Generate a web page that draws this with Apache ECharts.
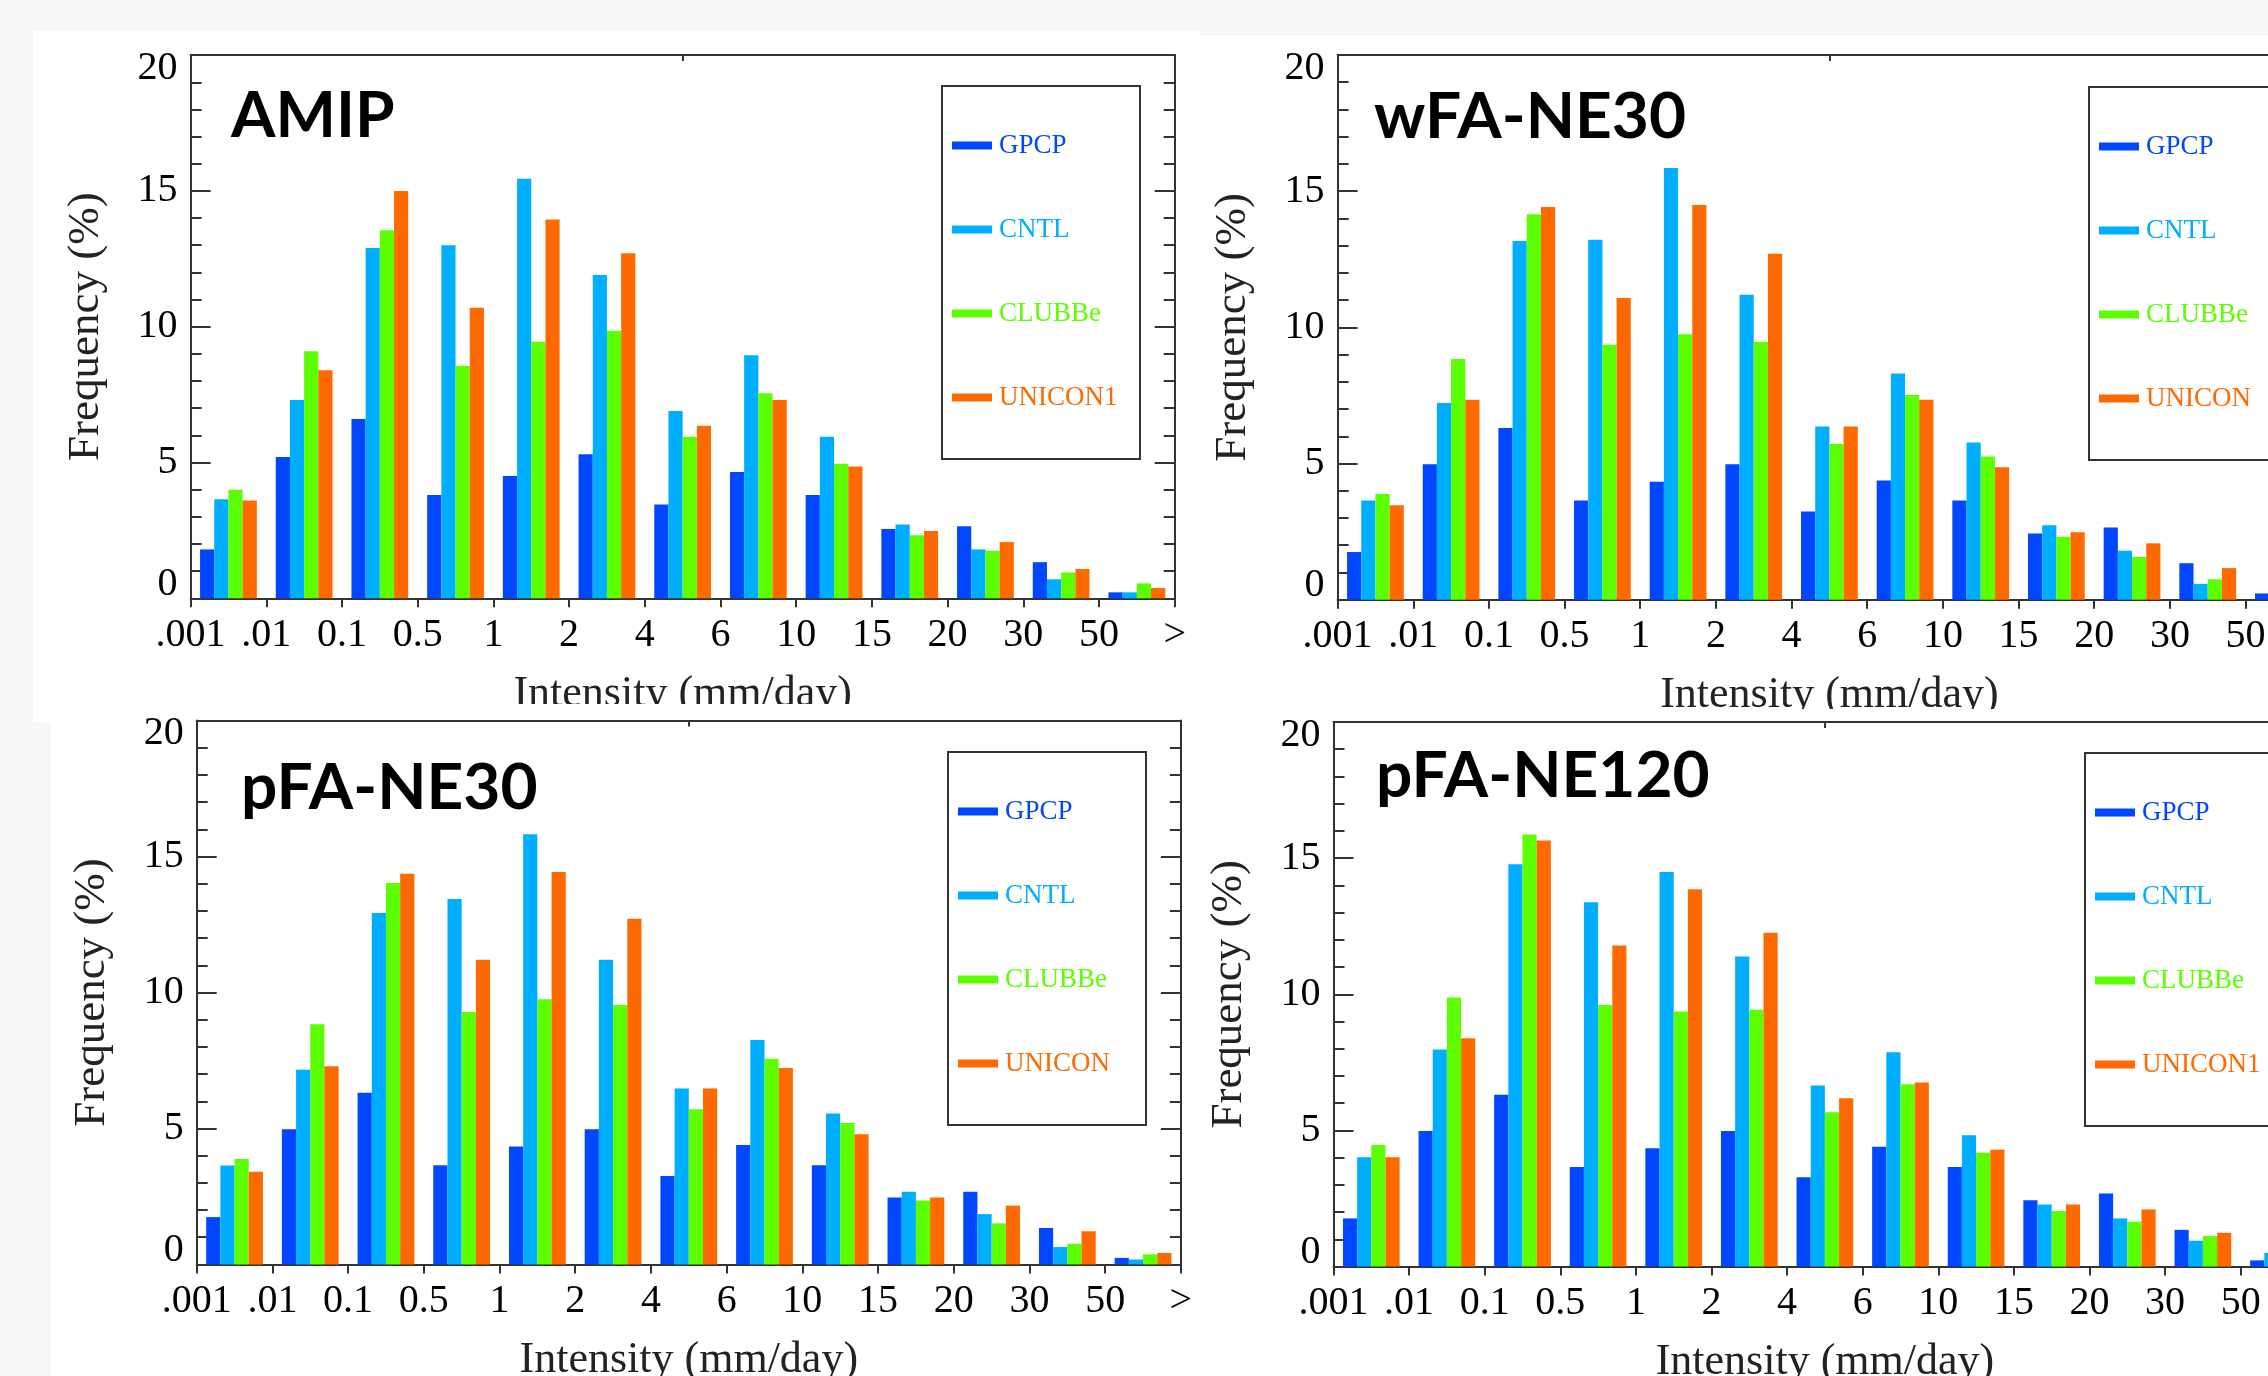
<!DOCTYPE html>
<html>
<head>
<meta charset="utf-8">
<script src="https://cdn.jsdelivr.net/npm/echarts@6/dist/echarts.min.js"></script>
<style>
html, body { margin: 0; padding: 0; width: 2268px; height: 1376px; background: #f7f7f9; overflow: hidden; position: relative; }
.paper { position: absolute; background: #fff; }
.chart { position: absolute; }
</style>
</head>
<body>
<div class="paper" style="left:33px;top:31px;width:1167px;height:691px"></div>
<div class="paper" style="left:1200px;top:36px;width:1068px;height:1340px"></div>
<div class="paper" style="left:51px;top:704px;width:1149px;height:672px"></div>
<div id="amip" class="chart" style="left:33px;top:31px;width:1167px;height:673px"></div>
<div id="wfa30" class="chart" style="left:1200px;top:36px;width:1068px;height:673px"></div>
<div id="pfa30" class="chart" style="left:51px;top:705px;width:1149px;height:671px"></div>
<div id="pfa120" class="chart" style="left:1200px;top:710px;width:1068px;height:666px"></div>
<script>
// ---------- data ----------
var bins = ['.001-.01', '.01-0.1', '0.1-0.5', '0.5-1', '1-2', '2-4', '4-6', '6-10', '10-15', '15-20', '20-30', '30-50', '>50'];
var tickLabels = ['.001', '.01', '0.1', '0.5', '1', '2', '4', '6', '10', '15', '20', '30', '50', '>'];
var colors = ['#0047ff', '#00aeff', '#5bff00', '#ff6a00'];

// AMIP
var amipGPCP   = [1.8, 5.2, 6.6, 3.8, 4.5, 5.3, 3.45, 4.65, 3.8, 2.55, 2.65, 1.33, 0.22];
var amipCNTL   = [3.65, 7.3, 12.9, 13.0, 15.45, 11.9, 6.9, 8.95, 5.95, 2.72, 1.8, 0.7, 0.22];
var amipCLUBBe = [4.0, 9.1, 13.55, 8.55, 9.45, 9.85, 5.95, 7.55, 4.95, 2.32, 1.75, 0.95, 0.55];
var amipUNICON = [3.6, 8.4, 15.0, 10.7, 13.95, 12.7, 6.35, 7.3, 4.85, 2.48, 2.07, 1.08, 0.38];

// wFA-NE30 (last bin partly off the page)
var wfa30GPCP   = [1.75, 4.97, 6.3, 3.64, 4.33, 4.97, 3.24, 4.38, 3.64, 2.43, 2.65, 1.34, 0.23];
var wfa30CNTL   = [3.64, 7.22, 13.17, 13.22, 15.85, 11.2, 6.36, 8.31, 5.77, 2.73, 1.8, 0.58, null];
var wfa30CLUBBe = [3.88, 8.84, 14.15, 9.36, 9.75, 9.46, 5.72, 7.52, 5.26, 2.31, 1.57, 0.75, null];
var wfa30UNICON = [3.47, 7.34, 14.42, 11.08, 14.49, 12.7, 6.36, 7.34, 4.86, 2.48, 2.07, 1.16, null];

// pFA-NE30
var pfa30GPCP   = [1.74, 4.97, 6.31, 3.65, 4.34, 4.97, 3.25, 4.39, 3.65, 2.46, 2.67, 1.34, 0.24];
var pfa30CNTL   = [3.64, 7.16, 12.92, 13.44, 15.82, 11.2, 6.47, 8.25, 5.55, 2.67, 1.85, 0.64, 0.18];
var pfa30CLUBBe = [3.88, 8.83, 14.03, 9.28, 9.75, 9.54, 5.71, 7.56, 5.2, 2.35, 1.51, 0.76, 0.37];
var pfa30UNICON = [3.41, 7.29, 14.37, 11.2, 14.43, 12.71, 6.47, 7.22, 4.79, 2.46, 2.16, 1.22, 0.42];

// pFA-NE120 (last bin partly off the page)
var pfa120GPCP   = [1.77, 4.98, 6.31, 3.66, 4.35, 4.98, 3.28, 4.4, 3.66, 2.44, 2.68, 1.35, 0.23];
var pfa120CNTL   = [4.02, 7.97, 14.78, 13.38, 14.49, 11.39, 6.65, 7.87, 4.82, 2.28, 1.77, 0.95, 0.5];
var pfa120CLUBBe = [4.47, 9.88, 15.87, 9.61, 9.37, 9.43, 5.67, 6.7, 4.18, 2.04, 1.65, 1.12, null];
var pfa120UNICON = [4.02, 8.39, 15.65, 11.79, 13.86, 12.26, 6.18, 6.76, 4.29, 2.28, 2.1, 1.24, null];

// ---------- option builder ----------
var serif = '"Liberation Serif", "DejaVu Serif", serif';
var lineCol = '#333';

function yAxisOf(pos) {
    var ax = {
        type: 'value',
        position: pos,
        min: 0,
        max: 20,
        interval: 5,
        axisLine: { show: true, onZero: false, lineStyle: { color: lineCol, width: 2 } },
        axisTick: { show: true, inside: true, length: 20, lineStyle: { color: lineCol, width: 2 } },
        minorTick: { show: true, splitNumber: 5, length: 11, lineStyle: { color: lineCol, width: 2 } },
        splitLine: { show: false },
        minorSplitLine: { show: false },
        axisLabel: { show: false }
    };
    if (pos === 'left') {
        ax.name = 'Frequency (%)';
        ax.nameLocation = 'middle';
        ax.nameGap = 82;
        ax.nameTextStyle = { fontFamily: serif, fontSize: 45, color: '#222' };
        ax.axisLabel = {
            show: true,
            margin: 13,
            fontFamily: serif,
            fontSize: 40,
            color: '#000',
            formatter: function (v) {
                if (v === 0) return '{lo|0}';
                if (v === 20) return '{hi|20}';
                return String(v);
            },
            rich: {
                lo: { fontFamily: serif, fontSize: 40, color: '#000', padding: [0, 0, 28, 0] },
                hi: { fontFamily: serif, fontSize: 40, color: '#000', padding: [26, 0, 0, 0] }
            }
        };
    }
    return ax;
}

function makeOption(p) {
    var names = ['GPCP', 'CNTL', 'CLUBBe', p.unicon];
    return {
        animation: false,
        backgroundColor: 'transparent',
        title: {
            text: p.title,
            left: p.titlePos[0],
            top: p.titlePos[1],
            padding: 0,
            textStyle: { fontFamily: 'Lato', fontWeight: 'bold', fontSize: 64, color: '#000' }
        },
        grid: {
            left: p.grid[0],
            top: p.grid[1],
            right: p.grid[2],
            bottom: p.grid[3],
            containLabel: false,
            outerBoundsMode: 'none'
        },
        legend: {
            orient: 'vertical',
            left: p.legendPos[0],
            top: p.legendPos[1],
            icon: 'rect',
            itemWidth: 40,
            itemHeight: 8,
            itemGap: 57,
            padding: [46, 16, 48, 10],
            borderColor: lineCol,
            borderWidth: 2,
            selectedMode: false,
            textStyle: { fontFamily: serif, fontSize: 27, lineHeight: 27, width: 125, padding: [0, 0, 0, 2] },
            data: names.map(function (n, i) {
                return { name: n, textStyle: { color: colors[i] } };
            })
        },
        xAxis: [{
            type: 'category',
            data: bins,
            show: false,
            position: 'bottom'
        }, {
            type: 'value',
            position: 'bottom',
            min: 0,
            max: 13,
            interval: 1,
            axisLine: { show: true, onZero: false, lineStyle: { color: lineCol, width: 2 } },
            axisTick: { show: true, length: 9, lineStyle: { color: lineCol, width: 2 } },
            splitLine: { show: false },
            axisLabel: {
                margin: 17,
                fontFamily: serif,
                fontSize: 40,
                color: '#000',
                formatter: function (v) { return tickLabels[v]; }
            },
            name: 'Intensity (mm/day)',
            nameLocation: 'middle',
            nameGap: 74,
            nameTextStyle: { fontFamily: serif, fontSize: 44, color: '#222' }
        }, {
            type: 'value',
            position: 'top',
            min: 0,
            max: 2,
            interval: 1,
            axisLine: { show: true, onZero: false, lineStyle: { color: lineCol, width: 2 } },
            axisTick: { show: true, inside: true, length: 6, lineStyle: { color: lineCol, width: 2 } },
            axisLabel: { show: false },
            splitLine: { show: false }
        }],
        yAxis: [yAxisOf('left'), yAxisOf('right')],
        series: names.map(function (n, i) {
            return {
                name: n,
                type: 'bar',
                xAxisIndex: 0,
                yAxisIndex: 0,
                data: p.values[i],
                barGap: '0%',
                barCategoryGap: '25%',
                itemStyle: { color: colors[i] }
            };
        })
    };
}

// ---------- panels ----------
var amipChart = echarts.init(document.getElementById('amip'));
amipChart.setOption(makeOption({
    title: 'AMIP', titlePos: [198, 53],
    grid: [157.6, 24.1, 25.3, 105.7],
    legendPos: [909, 55],
    unicon: 'UNICON1',
    values: [amipGPCP, amipCNTL, amipCLUBBe, amipUNICON]
}));

var wfa30Chart = echarts.init(document.getElementById('wfa30'));
wfa30Chart.setOption(makeOption({
    title: 'wFA-NE30', titlePos: [174, 49],
    grid: [137.6, 19, -53.2, 109.3],
    legendPos: [889, 51],
    unicon: 'UNICON',
    values: [wfa30GPCP, wfa30CNTL, wfa30CLUBBe, wfa30UNICON]
}));

var pfa30Chart = echarts.init(document.getElementById('pfa30'));
pfa30Chart.setOption(makeOption({
    title: 'pFA-NE30', titlePos: [190, 51],
    grid: [145.7, 15.6, 19.1, 111.6],
    legendPos: [897, 47],
    unicon: 'UNICON',
    values: [pfa30GPCP, pfa30CNTL, pfa30CLUBBe, pfa30UNICON]
}));

var pfa120Chart = echarts.init(document.getElementById('pfa120'));
pfa120Chart.setOption(makeOption({
    title: 'pFA-NE120', titlePos: [176, 34],
    grid: [133.5, 12, -48.3, 109.4],
    legendPos: [885, 43],
    unicon: 'UNICON1',
    values: [pfa120GPCP, pfa120CNTL, pfa120CLUBBe, pfa120UNICON]
}));
</script>
</body>
</html>
